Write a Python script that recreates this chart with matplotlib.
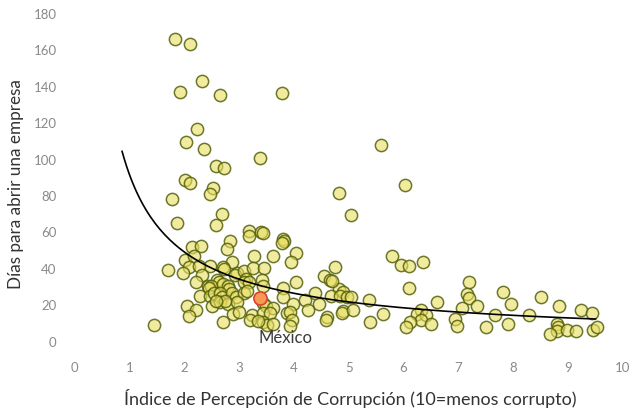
import matplotlib
matplotlib.use("Agg")
import matplotlib.pyplot as plt
import numpy as np

plt.rcParams['font.family'] = ['Lato', 'DejaVu Sans']

# Corruption Perception Index (x) vs days to open a business (y)
cpi = [1.83, 2.10, 2.32, 1.92, 2.65, 3.78, 2.23, 2.03, 2.36, 3.38, 2.58, 2.72, 5.59,
       2.01, 2.10, 2.52, 6.02, 4.82, 2.47, 1.78, 2.69, 5.04, 1.87, 2.58, 3.18, 3.18,
       3.40, 3.44, 3.80, 3.82, 3.78, 2.83, 2.78, 2.14, 2.30, 4.04, 3.95, 2.01, 2.18,
       3.27, 3.62, 5.79, 5.95, 6.10, 6.35, 4.75, 2.87, 2.47, 1.70, 2.09, 2.27, 2.71,
       2.72, 1.98, 2.96, 2.92, 3.09, 3.25, 3.45, 2.32, 3.13, 3.09, 3.18, 3.42, 4.55,
       4.66, 2.21, 2.60, 2.63, 4.04, 2.43, 2.49, 2.45, 2.71, 2.80, 2.82, 3.44, 3.80,
       4.82, 4.90, 2.29, 2.47, 2.54, 2.65, 2.69, 2.87, 2.94, 3.09, 3.14, 3.80, 4.20,
       4.38, 4.46, 4.68, 4.84, 4.97, 2.50, 2.65, 2.80, 2.96, 3.44, 3.49, 3.62, 3.98,
       2.05, 2.21, 2.09, 2.89, 3.00, 3.23, 3.20, 3.44, 3.56, 3.87, 3.93, 3.96, 4.26,
       2.71, 3.44, 3.51, 3.62, 3.93, 4.60, 4.58, 4.90, 4.88, 1.45, 2.74, 2.58, 3.34,
       7.19, 4.69, 7.16, 7.19, 5.04, 5.37, 7.81, 8.51, 6.61, 7.34, 7.96, 8.83, 9.23,
       9.43, 5.08, 5.62, 6.32, 6.24, 6.41, 6.32, 7.06, 7.67, 8.29, 6.94, 6.97, 5.39,
       6.12, 6.04, 6.50, 7.50, 7.90, 8.80, 8.81, 8.80, 8.67, 8.98, 9.14, 9.45, 9.52,
       6.10]
days = [165.7, 163.0, 142.7, 136.6, 135.0, 136.1, 116.3, 109.1, 105.3, 100.4, 95.9, 94.8, 107.5,
        88.3, 86.6, 83.9, 85.5, 81.1, 80.6, 77.8, 69.6, 69.0, 64.6, 63.5, 60.2, 57.5,
        59.7, 59.1, 55.9, 54.8, 53.7, 54.8, 50.4, 51.5, 52.0, 48.2, 43.3, 44.4, 46.5,
        46.5, 46.5, 46.5, 41.6, 41.0, 43.3, 40.5, 43.3, 41.0, 38.8, 40.5, 41.0, 40.5,
        39.4, 37.2, 37.2, 36.1, 38.3, 39.9, 39.9, 36.1, 33.9, 32.2, 32.2, 33.3, 35.5,
        33.3, 32.2, 33.3, 32.2, 32.2, 30.0, 30.0, 28.9, 31.1, 30.0, 28.4, 30.0, 28.9,
        28.4, 26.7, 24.6, 24.6, 26.2, 26.2, 24.0, 26.2, 24.0, 26.2, 27.3, 24.0, 22.4,
        26.2, 20.2, 24.6, 24.6, 24.0, 19.1, 21.3, 20.2, 21.3, 20.7, 19.1, 18.0, 20.2,
        19.1, 16.9, 13.6, 14.7, 15.8, 14.1, 11.4, 15.2, 15.2, 15.2, 15.8, 11.4, 16.9,
        10.3, 10.3, 8.6, 9.2, 8.1, 13.0, 11.4, 16.3, 15.2, 8.6, 21.8, 21.8, 10.8,
        32.2, 32.8, 25.7, 23.5, 24.0, 22.4, 26.7, 24.0, 21.3, 19.1, 20.2, 19.1, 16.9,
        15.2, 16.9, 14.7, 16.9, 14.7, 14.1, 11.4, 18.0, 14.1, 14.1, 11.9, 8.1, 10.3,
        10.3, 7.5, 9.2, 7.5, 9.2, 9.2, 7.5, 5.3, 3.7, 5.9, 5.3, 5.9, 7.5,
        28.9]

mexico_cpi = 3.39
mexico_days = 23.6
mexico_label = "México"

# power-law trend  days = A * cpi^B
trend_a = 91.3
trend_b = -0.905
trend_x_start = 0.866
trend_x_end = 9.50

x_ticks = list(range(0, 11))
y_ticks = list(range(0, 181, 20))
x_title = "Índice de Percepción de Corrupción (10=menos corrupto)"
y_title = "Días para abrir una empresa"

fig = plt.figure(figsize=(6.32, 4.10), dpi=100)
ax = fig.add_axes([0.118, 0.140, 0.8677, 0.8259])

face = (0.91, 0.87, 0.38, 0.6)
edge = (0.33, 0.38, 0.05, 0.85)
ax.scatter(cpi, days, s=78, facecolor=face, edgecolor=edge, linewidths=1.1, zorder=2)

tx = np.linspace(trend_x_start, trend_x_end, 200)
ax.plot(tx, trend_a * tx ** trend_b, color='black', lw=1.2, zorder=3)

ax.scatter([mexico_cpi], [mexico_days], s=90, facecolor='#F59A55',
           edgecolor='#E0412E', linewidths=1.2, zorder=4)
ax.text(3.85, 2.0, mexico_label, ha='center', va='center', fontsize=12,
        color='#3a3a3a', zorder=5)

ax.set_xlim(0, 10)
ax.set_ylim(-6, 180)
ax.set_xticks(x_ticks)
ax.set_yticks(y_ticks)
ax.tick_params(axis='both', length=0, labelsize=9.5, labelcolor='#8a8a8a')
ax.tick_params(axis='y', pad=13)
ax.tick_params(axis='x', pad=7)
for s in ax.spines.values():
    s.set_visible(False)

ax.set_xlabel(x_title, fontsize=13, color='#333333')
ax.set_ylabel(y_title, fontsize=12.3, color='#333333')
ax.xaxis.set_label_coords(0.502, -0.1075)
ax.yaxis.set_label_coords(-0.092, 0.497)

fig.savefig("out.png", dpi=100)
